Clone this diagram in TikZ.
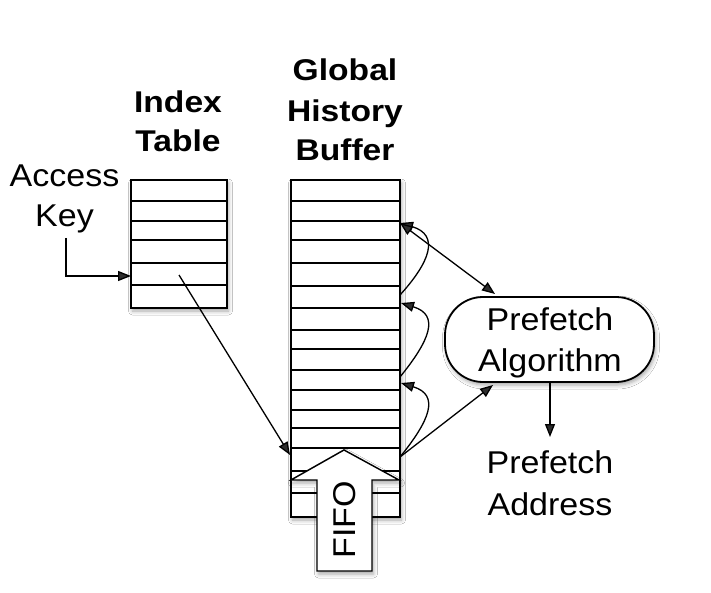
\documentclass[tikz,border=0pt]{standalone}
\usepackage{fontspec}
\setmainfont{Liberation Sans}
\newfontfamily\regfont{Liberation Sans}[FakeStretch=1.08]
\newfontfamily\boldfont{Liberation Sans}[FakeStretch=1.12]
\usetikzlibrary{arrows.meta,shadows.blur}
\begin{document}
\begin{tikzpicture}[x=1pt,y=-1pt,
  softshadow/.style={blur shadow={shadow xshift=1.5pt, shadow yshift=-3pt, shadow blur radius=4pt, shadow opacity=35}},
  tbl/.style={draw, line width=1.8pt, fill=white, inner sep=0pt, softshadow},
  rowline/.style={line width=1.5pt},
  conn/.style={line width=1.3pt, -{Triangle[length=13pt,width=10pt]}},
  lbl/.style={font=\regfont\fontsize{31.5}{38}\selectfont, anchor=base, inner sep=0pt},
  ttl/.style={font=\boldfont\bfseries\fontsize{30}{38}\selectfont, anchor=base, inner sep=0pt}]
\useasboundingbox (0,0) rectangle (711,593);
\fill[white] (0,0) rectangle (711,593);

% titles
\node[ttl] (tIndex) at (178,113) {Index};
\node[ttl] (tTable) at (178,152) {Table};
\node[ttl] (tGlobal) at (345,80.5) {Global};
\node[ttl] (tHistory) at (345,121.5) {History};
\node[ttl] (tBuffer) at (345,161) {Buffer};
\node[lbl] (tAccess) at (64.5,187) {Access};
\node[lbl] (tKey) at (64.5,227) {Key};

% index table
\node[tbl, minimum width=96pt, minimum height=128pt] (it) at (179,244) {};
\foreach \yy in {201,221,240,263,285} \draw[rowline] (131,\yy) -- (227,\yy);

% global history buffer
\node[tbl, minimum width=109pt, minimum height=337pt] (ghb) at (345.5,348.5) {};
\foreach \yy in {201,221,240,263,286,308,330,349,370,390,410,428,448,471,493}
  \draw[rowline] (291,\yy) -- (400,\yy);

% FIFO arrow
\filldraw[fill=white, line width=1.4pt, line join=miter, softshadow]
  (344,450) -- (399,480) -- (372,480) -- (372,571) -- (317,571) -- (317,480) -- (291,480) -- cycle;
\node[lbl, rotate=90] (fifo) at (355,520) {FIFO};

% prefetch algorithm
\node[draw, line width=1.8pt, fill=white, rounded corners=38pt,
  minimum width=209pt, minimum height=85pt, inner sep=0pt, softshadow] (pa) at (549.5,339.5) {};
\node[lbl] (tPre1) at (550,330) {Prefetch};
\node[lbl] (tAlg) at (550,371) {Algorithm};
\node[lbl] (tPre2) at (550,473) {Prefetch};
\node[lbl] (tAddr) at (550,515) {Address};

% connector end points
\coordinate (ak) at (66,238);
\coordinate (itin) at (131,276);
\coordinate (itp) at (179,275);
\coordinate (gin) at (290,455);
\coordinate (g1) at (400,223);
\coordinate (g2a) at (400,295);
\coordinate (g2) at (401,303);
\coordinate (g3a) at (400,377);
\coordinate (g3) at (401,383);
\coordinate (g4) at (400,457);
\coordinate (patop) at (495,294);
\coordinate (pabot) at (493,385);
\coordinate (pas) at (550,382);
\coordinate (pad) at (550,437);

% connectors
\draw[conn] (ak) |- (itin);
\draw[conn] (itp) -- (gin);
\draw[conn] (g4) .. controls (430,420) and (440,395) .. (g3);
\draw[conn] (g3a) .. controls (430,340) and (440,315) .. (g2);
\draw[conn] (g2a) .. controls (430,262) and (440,235) .. (g1);
\draw[conn, {Triangle[length=13pt,width=10pt]}-{Triangle[length=13pt,width=10pt]}] (g1) -- (patop);
\draw[conn] (g4) -- (pabot);
\draw[conn] (pas) -- (pad);
\end{tikzpicture}
\end{document}
